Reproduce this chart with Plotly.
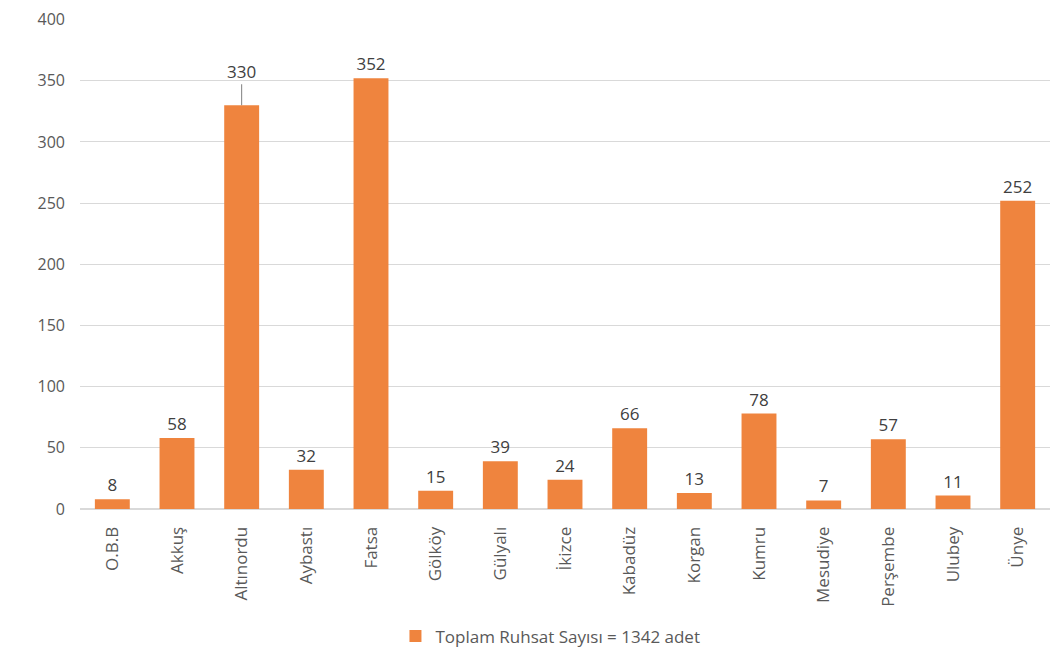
import plotly.graph_objects as go

categories = ["O.B.B", "Akkuş", "Altınordu", "Aybastı", "Fatsa", "Gölköy", "Gülyalı",
              "İkizce", "Kabadüz", "Korgan", "Kumru", "Mesudiye", "Perşembe", "Ulubey", "Ünye"]
values = [8, 58, 330, 32, 352, 15, 39, 24, 66, 13, 78, 7, 57, 11, 252]
series_name = "Toplam Ruhsat Sayısı = 1342 adet"
y_ticks = [0, 50, 100, 150, 200, 250, 300, 350, 400]

FONT = "Open Sans"
GRAY = "#595959"

text_labels = [("" if v == 330 else str(v)) for v in values]

fig = go.Figure()
fig.add_trace(go.Bar(
    x=categories, y=values, name=series_name,
    marker=dict(color="#EF843E", line=dict(width=0)),
    text=text_labels, textposition="outside", cliponaxis=False,
    textfont=dict(family=FONT, size=17, color="#404040"),
    showlegend=True,
))

# leader-line label for Altınordu
fig.add_annotation(x="Altınordu", y=330, text="330", showarrow=True,
                   arrowhead=0, arrowwidth=1, arrowcolor="#7f7f7f",
                   ax=0, ay=-34, font=dict(family=FONT, size=17, color="#404040"))

fig.update_layout(
    width=1058, height=663,
    margin=dict(l=72, r=16, t=11, b=162),
    paper_bgcolor="white", plot_bgcolor="white",
    bargap=0.46,
    font=dict(family=FONT, color=GRAY),
    legend=dict(orientation="h", x=0.485, xanchor="center", y=-0.26, yanchor="middle",
                font=dict(family=FONT, size=17, color=GRAY),
                itemwidth=30, traceorder="normal"),
    xaxis=dict(tickangle=-90, tickfont=dict(family=FONT, size=17, color=GRAY),
               showgrid=False, showline=True, linecolor="#d9d9d9", ticks="",
               automargin=False, ticklabelstandoff=10),
    yaxis=dict(range=[0, 400.5], tickvals=y_ticks, showgrid=True, gridcolor="#d9d9d9",
               zeroline=True, zerolinecolor="#d9d9d9",
               tickfont=dict(family=FONT, size=16, color=GRAY), ticks="", ticklen=0,
               automargin=False, ticklabelstandoff=14, ticklabeloverflow="allow"),
)

fig.write_html("out.html")
